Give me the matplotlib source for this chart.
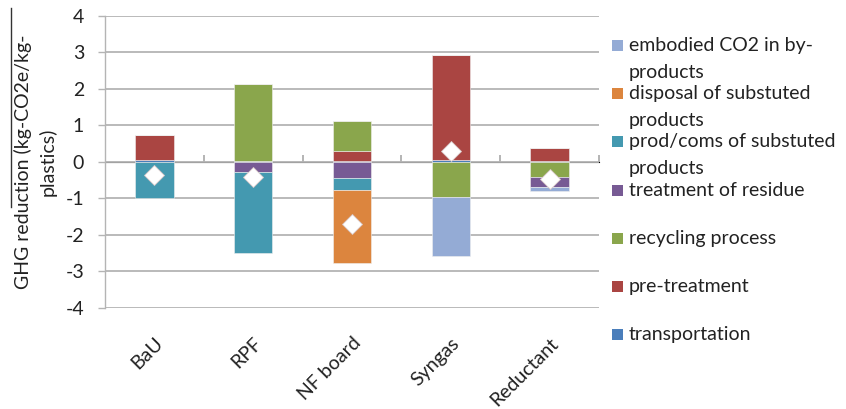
import matplotlib
matplotlib.use("Agg")
import matplotlib.pyplot as plt
import numpy as np
from matplotlib.patches import Rectangle
from matplotlib.lines import Line2D

plt.rcParams['font.family'] = ['Lato', 'DejaVu Sans']
plt.rcParams['axes.unicode_minus'] = False

categories = ["BaU", "RPF", "NF board", "Syngas", "Reductant"]

# series in stacking order (first = bottom)
series_names = [
    "transportation",
    "pre-treatment",
    "recycling process",
    "treatment of residue",
    "prod/coms of substuted\nproducts",
    "disposal of substuted\nproducts",
    "embodied CO2 in by-\nproducts",
]
transportation = [0.05, 0.02, 0.02, 0.04, 0.03]
pre_treatment = [0.68, 0.0, 0.28, 2.88, 0.36]
recycling_process = [0.0, 2.10, 0.83, -0.96, -0.41]
treatment_of_residue = [0.0, -0.27, -0.43, 0.0, -0.28]
prod_coms = [-1.00, -2.23, -0.33, 0.0, 0.0]
disposal = [0.0, 0.0, -2.01, 0.0, 0.0]
embodied_co2 = [0.0, 0.0, 0.0, -1.63, -0.11]
net_total = [-0.35, -0.41, -1.70, 0.29, -0.46]

series_values = [transportation, pre_treatment, recycling_process,
                 treatment_of_residue, prod_coms, disposal, embodied_co2]
colors = ["#4A7EBB", "#AA4542", "#8AA64C", "#775A94", "#4499B0", "#DC853E", "#94ABD5"]

FS = 14

fig = plt.figure(figsize=(8.46, 4.09), dpi=100)
ax = fig.add_axes([105/846, 1-308/409, 494/846, (308-15.7)/409])

x = np.arange(len(categories))
pos_base = np.zeros(len(categories))
neg_base = np.zeros(len(categories))
for vals, col in zip(series_values, colors):
    v = np.array(vals, dtype=float)
    bottoms = np.where(v >= 0, pos_base, neg_base)
    ax.bar(x, v, width=0.39, bottom=bottoms, color=col, zorder=3,
           edgecolor='#f0f0f0', linewidth=0.4)
    pos_base = pos_base + np.where(v > 0, v, 0)
    neg_base = neg_base + np.where(v < 0, v, 0)

ax.plot(x, net_total, linestyle='none', marker='D', markersize=10.5,
        markerfacecolor='white', markeredgecolor='#d8c8c8', markeredgewidth=0.6, zorder=5)

ax.set_xlim(-0.5, len(categories) - 0.5)
ax.set_ylim(-4, 4)
ax.set_yticks(np.arange(-4, 5, 1))
ax.yaxis.grid(True, color='#b4b4b4', linewidth=1.3, zorder=0)
ax.set_axisbelow(True)
for s in ['top', 'right', 'bottom']:
    ax.spines[s].set_visible(False)
ax.spines['left'].set_color('#b4b4b4')
ax.spines['left'].set_linewidth(1.0)
ax.tick_params(axis='y', colors='#b4b4b4', length=5, width=1.0, labelcolor='#222222',
               labelsize=FS, pad=10)

ax.set_xticks(x)
ax.set_xticklabels(categories, rotation=45, ha='right', rotation_mode='anchor',
                   fontsize=FS, color='#222222')
ax.tick_params(axis='x', length=0, pad=19)

# category axis crossing at zero
sec = ax.secondary_xaxis(0.5)
sec.set_xticks(x)
sec.set_xticklabels([])
sec.set_xticks(np.arange(len(categories)) + 0.5, minor=True)
sec.tick_params(which='major', direction='in', length=4, color='#a8a8a8', width=1.2)
sec.tick_params(which='minor', direction='out', length=5, color='#a8a8a8', width=1.2)
sec.spines['bottom'].set_color('#b4b4b4')
sec.spines['bottom'].set_linewidth(1.3)

ax.set_ylabel("GHG reduction (kg-CO2e/kg-\nplastics)", fontsize=FS, color='#222222',
              linespacing=1.45)
ax.yaxis.set_label_coords(-0.098, 0.5)

# stray line left of y label
fig.add_artist(Line2D([11/846, 11/846], [1-8/409, 1-207/409], color='#333333', linewidth=1.0))

# legend (reverse order, Excel style)
leg_x_box = 612/846
leg_x_text = 629/846
y0 = 45.7
for i, idx in enumerate(range(len(series_names) - 1, -1, -1)):
    yc = y0 + i * 48.1
    fig.add_artist(Rectangle((leg_x_box, 1 - (yc + 5.5)/409), 11/846, 11/409,
                             facecolor=colors[idx], edgecolor='none'))
    for j, line in enumerate(series_names[idx].split('\n')):
        fig.text(leg_x_text, 1 - (yc + j * 27)/409, line, fontsize=FS,
                 va='center', ha='left', color='#222222')

fig.savefig("out.png", dpi=100)
